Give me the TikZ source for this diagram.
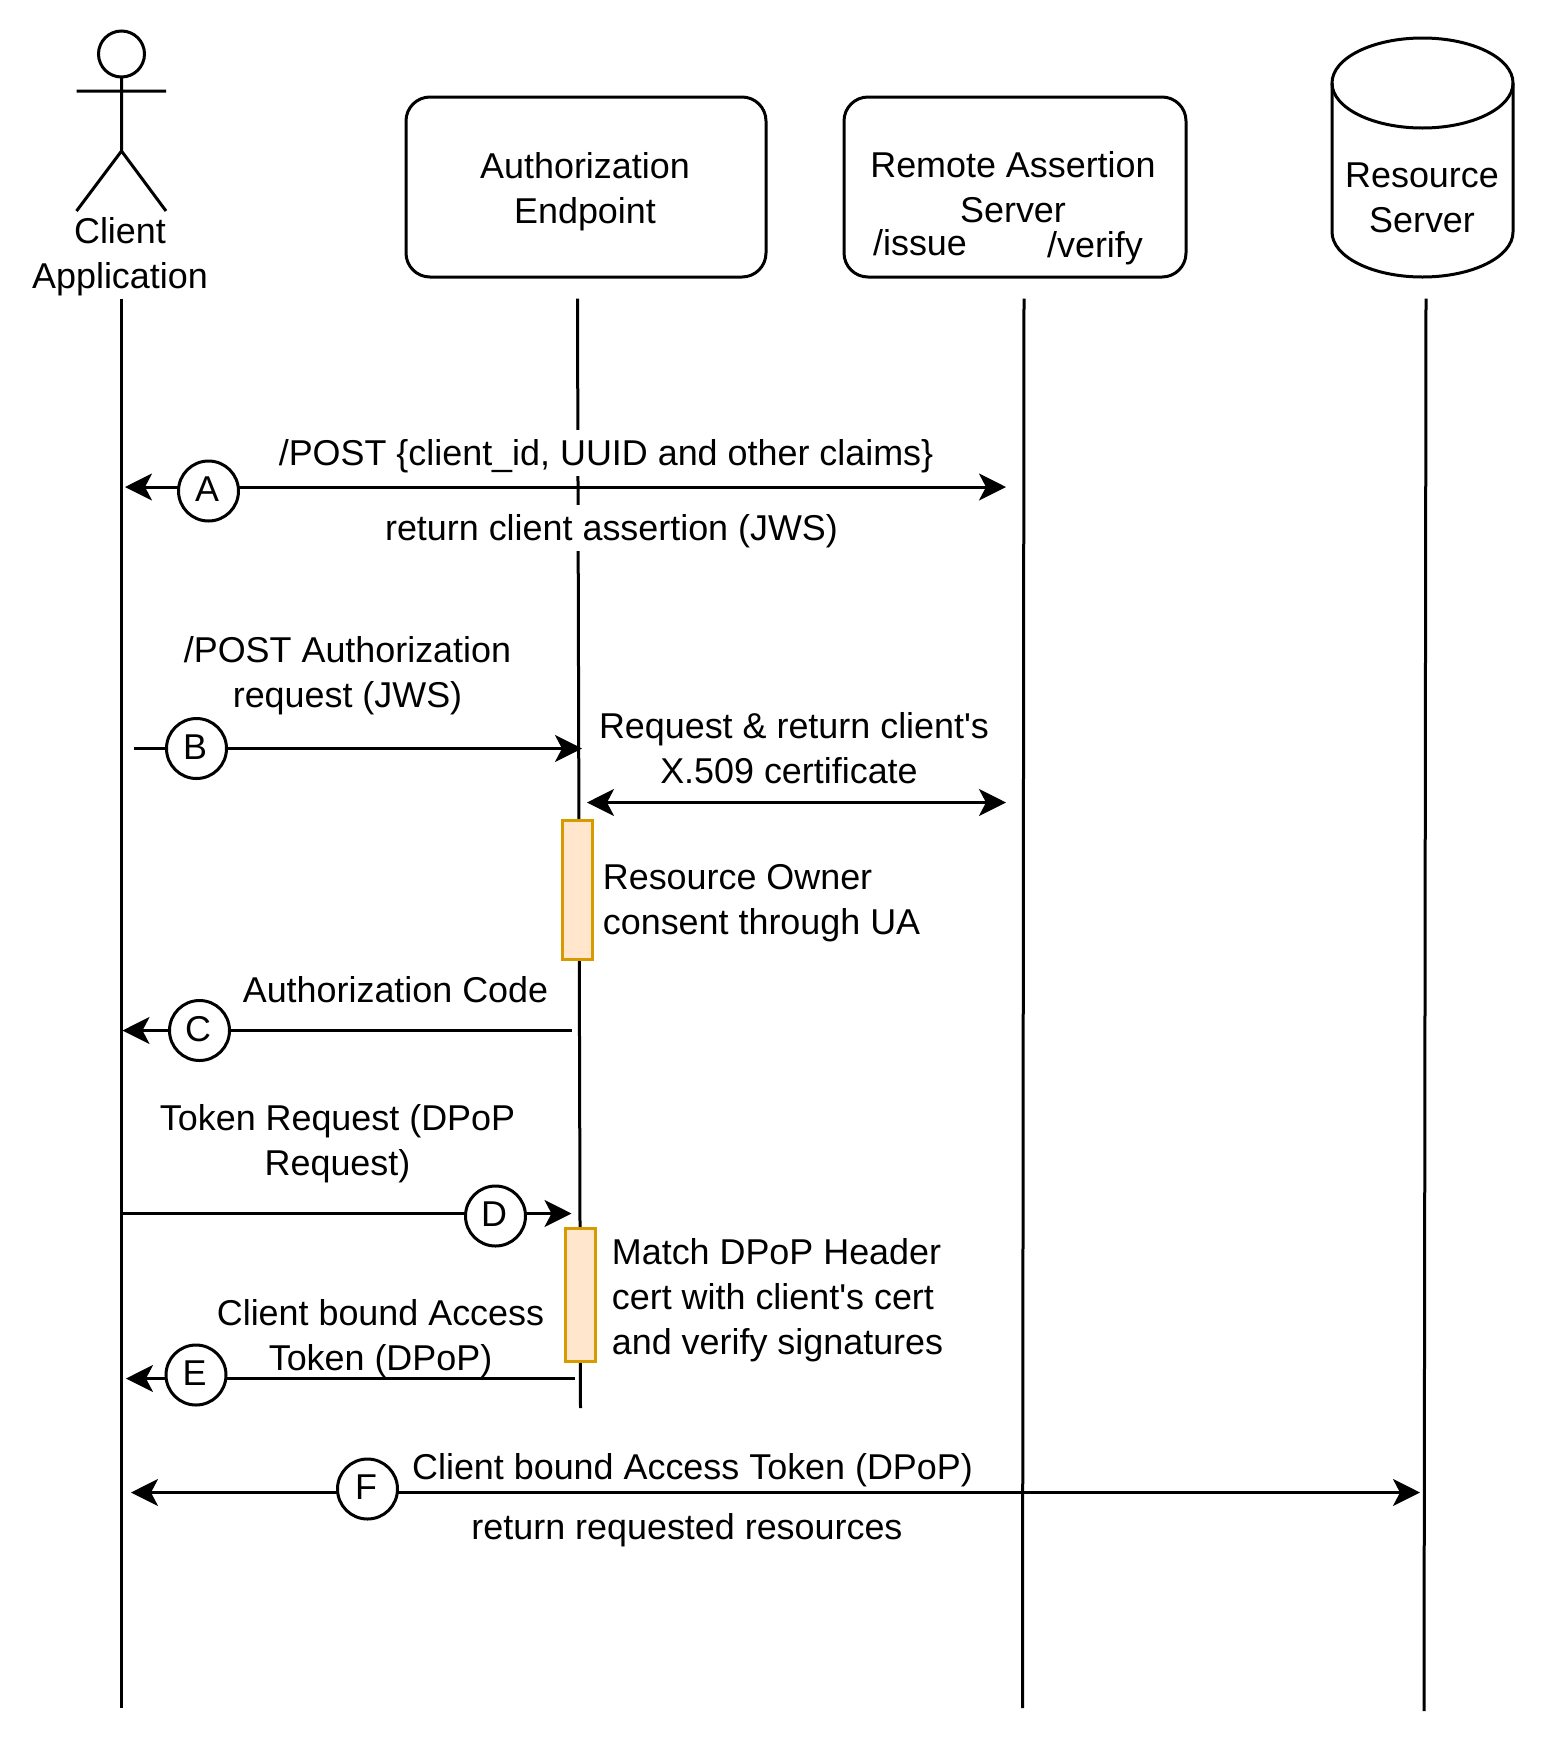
\documentclass[tikz,border=0pt]{standalone}
\usepackage{fontspec}
\newfontfamily\DiagramFont{Liberation Sans}
\usepackage{xcolor}
\definecolor{ConsentFill}{HTML}{FFE6CC}
\definecolor{ConsentDraw}{HTML}{D79B00}
\usetikzlibrary{arrows.meta}
\tikzset{
	every node/.style={font=\DiagramFont\fontsize{17.95}{22.5}\selectfont,inner sep=0pt},
	lifeline/.style={line width=1.5pt},
	shapeline/.style={line width=1.5pt},
	panel/.style={draw,line width=1.5pt,rounded corners=12pt,minimum width=180pt,minimum height=90pt},
	msgtext/.style={align=center},
	covertext/.style={fill=white,text height=17.75pt,text depth=5.25pt},
	sidetext/.style={align=left,anchor=west},
	badge/.style={draw,circle,line width=1.5pt,fill=white,minimum size=30pt,text depth=1.7pt},
	activity/.style={draw=ConsentDraw,fill=ConsentFill,line width=1.5pt,minimum width=15pt},
	msgtip/.style={line width=1.5pt,-{Stealth[length=13.5pt,width=13.5pt,inset=3.5pt]}},
	msgboth/.style={line width=1.5pt,{Stealth[length=13.5pt,width=13.5pt,inset=3.5pt]}-{Stealth[length=13.5pt,width=13.5pt,inset=3.5pt]}}
}
\begin{document}
\begin{tikzpicture}[x=0.5pt,y=-0.5pt]
	\useasboundingbox (0,0) rectangle (1545,1746);
	\def\LifeTop{298.5} % top of the lifelines

	% lifelines
	\foreach \name/\xa/\xb/\yb in {client/121.5/121.5/1708,auth/577.5/580.5/1408,remote/1024/1022.5/1708,resource/1426/1424/1711}{
		\coordinate (\name Top) at (\xa,\LifeTop);
		\coordinate (\name Bot) at (\xb,\yb);
		\draw[lifeline] (\name Top) -- (\name Bot);
	}

	% actor
	\draw[shapeline] (121.5,54) ellipse [x radius=23,y radius=23];
	\draw[shapeline] (121.5,77) -- (121.5,151) -- (76.5,211) (121.5,151) -- (166,211) (76.5,91) -- (166,91);
	\node[msgtext] (clientName) at (120,256.5) {Client\\Application};

	% servers
	\node[panel] (authBox) at (586,187) {};
	\node[msgtext] (authName) at (585,191.5) {Authorization\\Endpoint};
	\node[panel,minimum width=171pt] (remoteBox) at (1015,187) {};
	\node[msgtext] (remoteName) at (1013,187.5) {Remote Assertion\\Server};
	\node (issueText) at (920,243) {/issue};
	\node (verifyText) at (1095,248) {/verify};

	\draw[shapeline] (1332,83) arc [start angle=180,end angle=-180,x radius=90.5,y radius=45];
	\draw[shapeline] (1332,83) -- (1332,232) arc [start angle=180,end angle=0,x radius=90.5,y radius=45] -- (1513,83);
	\node[msgtext] (resourceName) at (1422,197.5) {Resource\\Server};

	% texts that hide the lifeline
	\node[covertext] (postText) at (606,453) {/POST \{client\_id, UUID and other claims\}};
	\node[covertext] (assertText) at (611.5,527.5) {return client assertion (JWS)};

	% other texts
	\node[msgtext] (postAuthText) at (347.5,675.7) {/POST Authorization\\request (JWS)};
	\node[msgtext] (certText) at (794,748) {Request \& return client's\\X.509 certificate\hspace*{5pt}};
	\node[sidetext] (ownerText) at (602.5,903) {Resource Owner\\consent through UA};
	\node (codeText) at (395.5,990) {Authorization Code};
	\node[msgtext] (tokenText) at (337.5,1143.7) {Token Request (DPoP\\Request)};
	\node[sidetext] (matchText) at (611.5,1300.5) {Match DPoP Header\\cert with client's cert\\and verify signatures};
	\node[msgtext] (boundText) at (380.5,1339) {Client bound Access\\Token (DPoP)};
	\node (boundFullText) at (692.5,1469.7) {Client bound Access Token (DPoP)};
	\node (resourcesText) at (687,1530) {return requested resources};

	% activity bars
	\node[activity,minimum height=69.5pt] (consentBar) at (577.75,889.5) {};
	\node[activity,minimum height=66.5pt] (matchBar) at (580.25,1294.5) {};

	% messages
	\coordinate (msgAL) at (125,487);
	\coordinate (msgAR) at (1006,487);
	\coordinate (msgBL) at (134,748.5);
	\coordinate (msgBR) at (582,748.5);
	\coordinate (certL) at (587,802.5);
	\coordinate (certR) at (1006,802.5);
	\coordinate (msgCL) at (122.5,1030.5);
	\coordinate (msgCR) at (571.5,1030.5);
	\coordinate (msgDL) at (121.5,1213.5);
	\coordinate (msgDR) at (571.5,1213.5);
	\coordinate (msgEL) at (126,1378.5);
	\coordinate (msgER) at (574.5,1378.5);
	\coordinate (msgFL) at (131,1492.5);
	\coordinate (msgFR) at (1420,1492.5);

	\draw[msgboth] (msgAL) -- (msgAR);
	\draw[msgtip] (msgBL) -- (msgBR);
	\draw[msgboth] (certL) -- (certR);
	\draw[msgtip] (msgCR) -- (msgCL);
	\draw[msgtip] (msgDL) -- (msgDR);
	\draw[msgtip] (msgER) -- (msgEL);
	\draw[msgboth] (msgFL) -- (msgFR);

	% letters on the messages
	\foreach \letter/\x/\y in {A/208.5/491,B/196.5/748.5,C/199.5/1030.5,D/495.5/1216,E/196/1375,F/367.5/1489}{
		\node[badge] (badge\letter) at (\x,\y) {\letter\hspace*{1.5pt}};
	}
\end{tikzpicture}
\end{document}
